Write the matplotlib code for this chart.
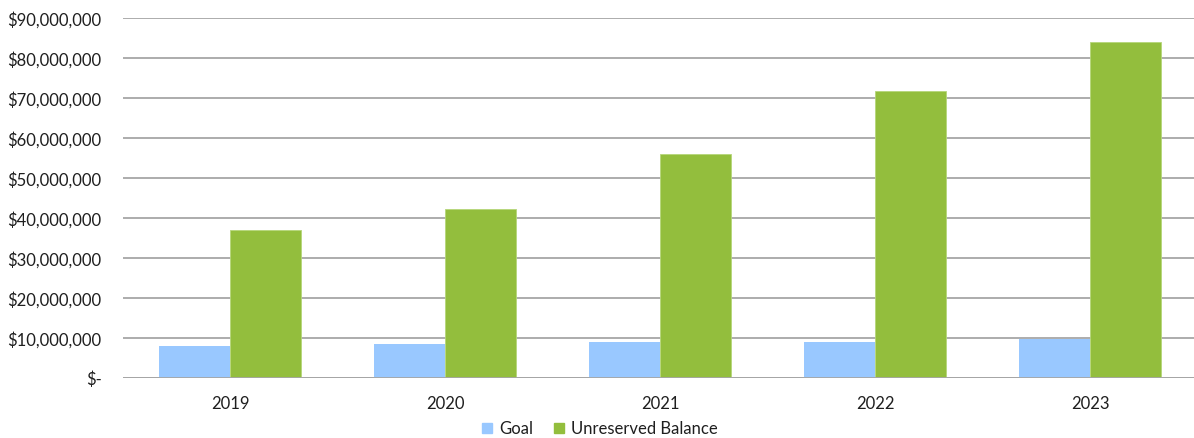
import matplotlib
matplotlib.use("Agg")
import matplotlib.pyplot as plt
from matplotlib.ticker import FuncFormatter, MultipleLocator
from matplotlib.patches import Patch
import numpy as np

years = ["2019", "2020", "2021", "2022", "2023"]
goal = [8_100_000, 8_600_000, 9_200_000, 9_200_000, 9_800_000]
unreserved = [37_200_000, 42_300_000, 56_000_000, 71_900_000, 84_200_000]

plt.rcParams["font.family"] = ["Lato", "DejaVu Sans"]

cor_goal = "#99c8ff"
cor_unres = "#93be3d"
cor_texto = "#1f1f1f"
cor_grade = "#a6a6a6"

fig = plt.figure(figsize=(11.94, 4.38), dpi=100)
ax = fig.add_axes([0.1026, 0.1363, 0.9003, 0.8219])

x = np.arange(len(years))
largura = 0.332
ax.bar(x - largura / 2, goal, largura, color=cor_goal, zorder=3)
ax.bar(x + largura / 2, unreserved, largura, color=cor_unres,
       edgecolor="#b5d67a", linewidth=0.6, zorder=3)

ax.set_xlim(-0.5, len(years) - 0.5)
ax.set_ylim(0, 90_000_000)
ax.yaxis.set_major_locator(MultipleLocator(10_000_000))


def formato(v, pos):
    if v == 0:
        return "$-"
    return f"${v:,.0f}"


ax.yaxis.set_major_formatter(FuncFormatter(formato))
ax.set_xticks(x)
ax.set_xticklabels(years)

ax.grid(axis="y", color=cor_grade, linewidth=1.3, zorder=0)
for lado in ["top", "right", "left", "bottom"]:
    ax.spines[lado].set_visible(False)
ax.axhline(0, color=cor_grade, linewidth=1.3, zorder=4)

ax.tick_params(axis="y", length=0, pad=15, labelsize=12, labelcolor=cor_texto)
ax.tick_params(axis="x", length=0, pad=13, labelsize=12, labelcolor=cor_texto)

handles = [Patch(color=cor_goal, label="Goal"),
           Patch(color=cor_unres, label="Unreserved Balance")]
fig.legend(handles=handles, loc="center", bbox_to_anchor=(0.5025, 0.021),
           ncol=2, frameon=False, fontsize=12, handlelength=0.6,
           handleheight=0.6, handletextpad=0.4, columnspacing=1.3,
           labelcolor=cor_texto)

fig.savefig("out.png", dpi=100)
